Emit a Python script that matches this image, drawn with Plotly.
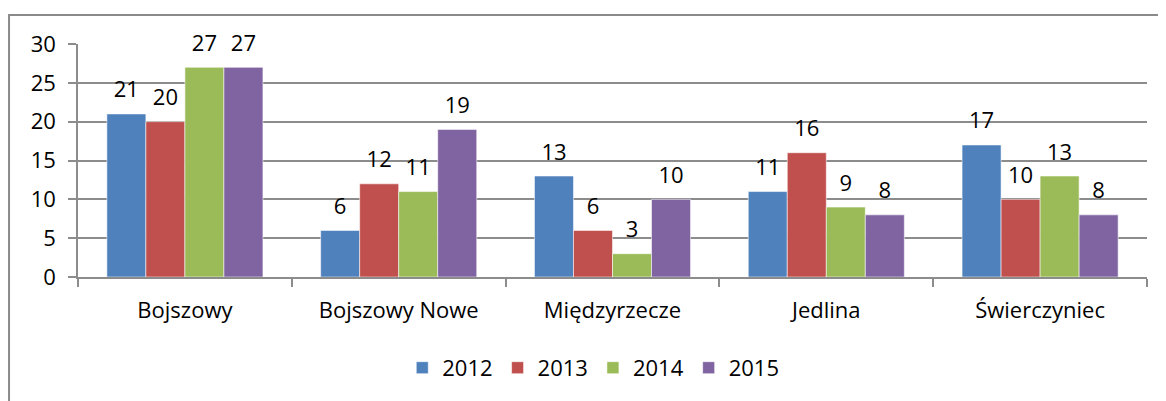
import plotly.graph_objects as go

categories = ["Bojszowy", "Bojszowy Nowe", "Międzyrzecze", "Jedlina", "Świerczyniec"]
years = ["2012", "2013", "2014", "2015"]
v2012 = [21, 6, 13, 11, 17]
v2013 = [20, 12, 6, 16, 10]
v2014 = [27, 11, 3, 9, 13]
v2015 = [27, 19, 10, 8, 8]
y_ticks = [0, 5, 10, 15, 20, 25, 30]

series = [v2012, v2013, v2014, v2015]
colors = ["#4F81BD", "#C0504D", "#9BBB59", "#8064A2"]
FONT = "Open Sans, Liberation Sans, sans-serif"
FS = 22
GRID = "#8c8c8c"

fig = go.Figure()

for name, vals, col in zip(years, series, colors):
    fig.add_trace(go.Bar(
        x=categories, y=vals, name=name,
        marker=dict(color=col, line=dict(color="rgba(255,255,255,0.55)", width=1)),
        offsetgroup=name,
    ))

# value labels sit well above each bar, like Excel's manual placement
for name, vals in zip(years, series):
    fig.add_trace(go.Scatter(
        x=categories, y=vals, mode="markers+text", text=[str(v) for v in vals],
        textposition="top center",
        textfont=dict(family=FONT, size=FS, color="#000000"),
        marker=dict(size=16, opacity=0),
        offsetgroup=name, showlegend=False, hoverinfo="skip", cliponaxis=False,
    ))

# the page body adds an 8px margin, so the figure is 8px smaller than the window
fig.update_layout(
    barmode="group",
    scattermode="group",
    bargap=0.27,
    bargroupgap=0,
    width=1158, height=393,
    margin=dict(l=70, r=19, t=36, b=124),
    paper_bgcolor="white", plot_bgcolor="white",
    font=dict(family=FONT, size=FS, color="#000000"),
    showlegend=True,
    legend=dict(orientation="h", x=0.482, xanchor="center", y=-0.30, yanchor="top",
                font=dict(family=FONT, size=FS), itemwidth=30, traceorder="normal"),
)

fig.update_xaxes(
    type="category", showgrid=False, showline=True, linecolor=GRID, linewidth=1.5,
    ticks="outside", tickson="boundaries", ticklen=8, tickcolor=GRID, tickwidth=1.5,
    ticklabelstandoff=13,
)
fig.update_yaxes(
    range=[0, 30], tickvals=y_ticks, showgrid=True, gridcolor=GRID, gridwidth=1.5,
    showline=True, linecolor=GRID, linewidth=1.5, ticks="outside", ticklen=8,
    tickcolor=GRID, tickwidth=1.5, zeroline=False, ticklabelstandoff=8,
)

# outer chart border
fig.add_shape(type="rect", xref="paper", yref="paper",
              x0=-0.0645, x1=1.03, y0=-0.6, y1=1.1245,
              line=dict(color="#8a8a8a", width=2), layer="below")

fig.write_html("out.html")
